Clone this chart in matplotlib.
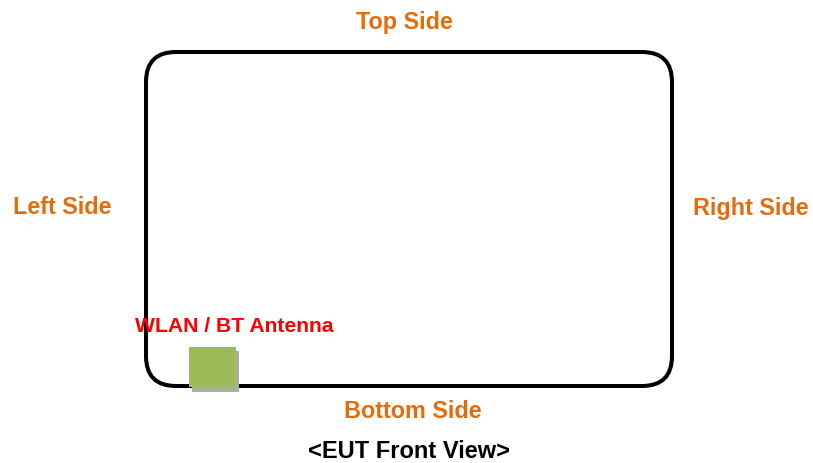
import matplotlib.pyplot as plt
from matplotlib.patches import FancyBboxPatch, Rectangle

plt.rcParams['font.family'] = ['Liberation Sans', 'DejaVu Sans']

# labels
side_labels = ['Top Side', 'Left Side', 'Right Side', 'Bottom Side']
antenna_label = 'WLAN / BT Antenna'
caption = '<EUT Front View>'

orange = '#E46C0A'

fig = plt.figure(figsize=(8.13, 4.63), dpi=100)
ax = fig.add_axes([0, 0, 1, 1])
ax.set_xlim(0, 813)
ax.set_ylim(463, 0)
ax.axis('off')

# device outline
body = FancyBboxPatch((146, 52), 526, 334, boxstyle='round,pad=0,rounding_size=30',
                      fill=False, edgecolor='black', linewidth=2.9, zorder=2)
ax.add_patch(body)

# antenna block with shadow
ax.add_patch(Rectangle((192, 351), 47, 41, facecolor='#A9B196', edgecolor='none', zorder=3))
ax.add_patch(Rectangle((189, 347), 47, 40, facecolor='#9BBB59', edgecolor='none', zorder=4))

# side labels
pos = [(404, 22), (62, 207), (751, 207), (413, 411)]
for lab, (x, y) in zip(side_labels, pos):
    ax.text(x, y + 1, lab, color=orange, fontsize=16.8, fontweight='bold', ha='center', va='center')

ax.text(135, 327, antenna_label, color='#FF0000', fontsize=15.2, fontweight='bold',
        ha='left', va='center', zorder=5)
ax.text(409, 451, caption, color='black', fontsize=17, fontweight='bold',
        ha='center', va='center')

fig.savefig('out.png', dpi=100)
